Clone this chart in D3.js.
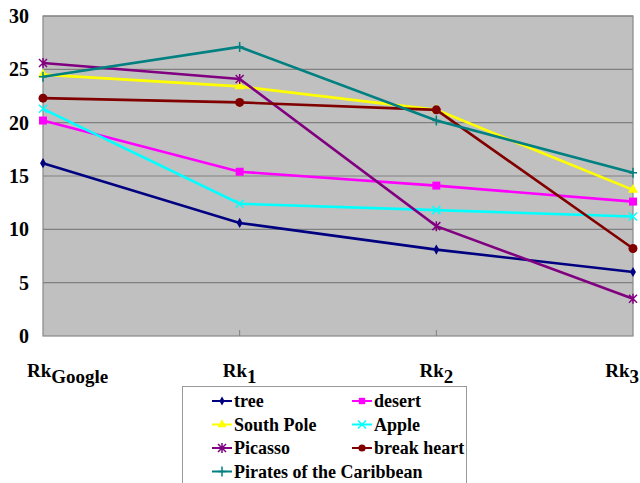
<!DOCTYPE html>
<html><head><meta charset="utf-8">
<script src="https://cdn.jsdelivr.net/npm/d3@7"></script>
<style>body{margin:0;background:#fff}svg{display:block}</style>
</head><body>
<svg id="c" width="640" height="483"></svg>
<script>
const categories = ["Google","1","2","3"];
const seriesNames = ["tree","desert","South Pole","Apple","Picasso","break heart","Pirates of the Caribbean"];
const tree = [16.2,10.6,8.1,6.0];
const desert = [20.2,15.4,14.1,12.6];
const southPole = [24.5,23.4,21.2,13.7];
const apple = [21.3,12.4,11.8,11.2];
const picasso = [25.6,24.1,10.3,3.5];
const breakHeart = [22.3,21.9,21.2,8.2];
const pirates = [24.3,27.1,20.2,15.3];
const yTicks = [0,5,10,15,20,25,30];
const colors = ["#000080","#FF00FF","#FFFF00","#00FFFF","#800080","#800000","#008080"];
const markers = ["diamond","square","triangle","x","star","circle","plus"];
const values = [tree,desert,southPole,apple,picasso,breakHeart,pirates];

const FONT = "Liberation Serif";
const svg = d3.select("#c");
const L=43,R=633,T=16,B=336;
const x = d3.scalePoint().domain(categories).range([L,R]);
const y = d3.scaleLinear().domain([0,30]).range([B,T]);

svg.append("rect").attr("x",L).attr("y",T).attr("width",R-L).attr("height",B-T).attr("fill","#C0C0C0");
svg.append("g").selectAll("line").data(yTicks.filter(d=>d>0)).join("line")
  .attr("x1",L).attr("x2",R).attr("y1",d=>y(d)).attr("y2",d=>y(d)).attr("stroke","#808080").attr("stroke-width",1.2);
svg.append("rect").attr("x",L).attr("y",T).attr("width",R-L).attr("height",B-T).attr("fill","none").attr("stroke","#888").attr("stroke-width",1.2);
svg.append("g").selectAll("line").data(categories.slice(1,3)).join("line")
  .attr("x1",d=>x(d)).attr("x2",d=>x(d)).attr("y1",B).attr("y2",B-6).attr("stroke","#808080");

// y labels
svg.append("g").selectAll("text").data(yTicks).join("text")
  .attr("x",29).attr("y",d=>y(d)+7).attr("text-anchor","end").attr("font-size",20)
  .style("font-family",FONT).style("font-weight","bold").text(d=>d);

// x labels
const xl = svg.append("g");
categories.forEach((c,i)=>{
  const t = xl.append("text").attr("font-size",19).attr("y",377).style("font-family",FONT).style("font-weight","bold");
  t.append("tspan").text("Rk");
  t.append("tspan").attr("dy",6).text(c);
  const w = t.node().getComputedTextLength();
  let cx = x(c);
  let left = cx - w/2;
  if (left < 27) left = 27;
  if (left + w > 639) left = 639 - w;
  t.attr("x",left);
});

function sym(g,type,color,s){
  const k=s||1;
  if(type==="diamond") g.append("path").attr("d",d3.symbol(d3.symbolDiamond,30*k)()).attr("fill",color);
  else if(type==="square") g.append("rect").attr("x",-4*k).attr("y",-4*k).attr("width",8*k).attr("height",8*k).attr("fill",color);
  else if(type==="triangle") g.append("path").attr("d",d3.symbol(d3.symbolTriangle,45*k)()).attr("fill",color);
  else if(type==="circle") g.append("circle").attr("r",4.5*k).attr("fill",color);
  else if(type==="x") g.append("path").attr("d","M-4,-4L4,4M-4,4L4,-4").attr("stroke",color).attr("stroke-width",1.5);
  else if(type==="star") g.append("path").attr("d","M-4,-4L4,4M-4,4L4,-4M0,-5L0,5").attr("stroke",color).attr("stroke-width",1.5);
  else if(type==="plus") g.append("path").attr("d","M-4,0L4,0M0,-5L0,5").attr("stroke",color).attr("stroke-width",1.5);
}

const line = d3.line().x((d,i)=>x(categories[i])).y(d=>y(d));
values.forEach((vals,si)=>{
  svg.append("path").attr("d",line(vals)).attr("fill","none").attr("stroke",colors[si]).attr("stroke-width",2.6);
  vals.forEach((v,i)=>{
    const g = svg.append("g").attr("transform",`translate(${x(categories[i])},${y(v)})`);
    sym(g,markers[si],colors[si]);
  });
});

// legend
const lg = svg.append("g");
lg.append("rect").attr("x",182.5).attr("y",386.5).attr("width",284).attr("height",110).attr("fill","#fff").attr("stroke","#999");
seriesNames.forEach((n,i)=>{
  const col=i%2,row=Math.floor(i/2);
  const lx = col===0?212:352, ly = 401+row*23.5;
  lg.append("line").attr("x1",lx).attr("x2",lx+20).attr("y1",ly).attr("y2",ly).attr("stroke",colors[i]).attr("stroke-width",2);
  const g=lg.append("g").attr("transform",`translate(${lx+10},${ly})`);
  sym(g,markers[i],colors[i],0.8);
  lg.append("text").attr("x",lx+22).attr("y",ly+6).attr("font-size",18)
    .style("font-family",FONT).style("font-weight","bold").text(n);
});
</script>
</body></html>
